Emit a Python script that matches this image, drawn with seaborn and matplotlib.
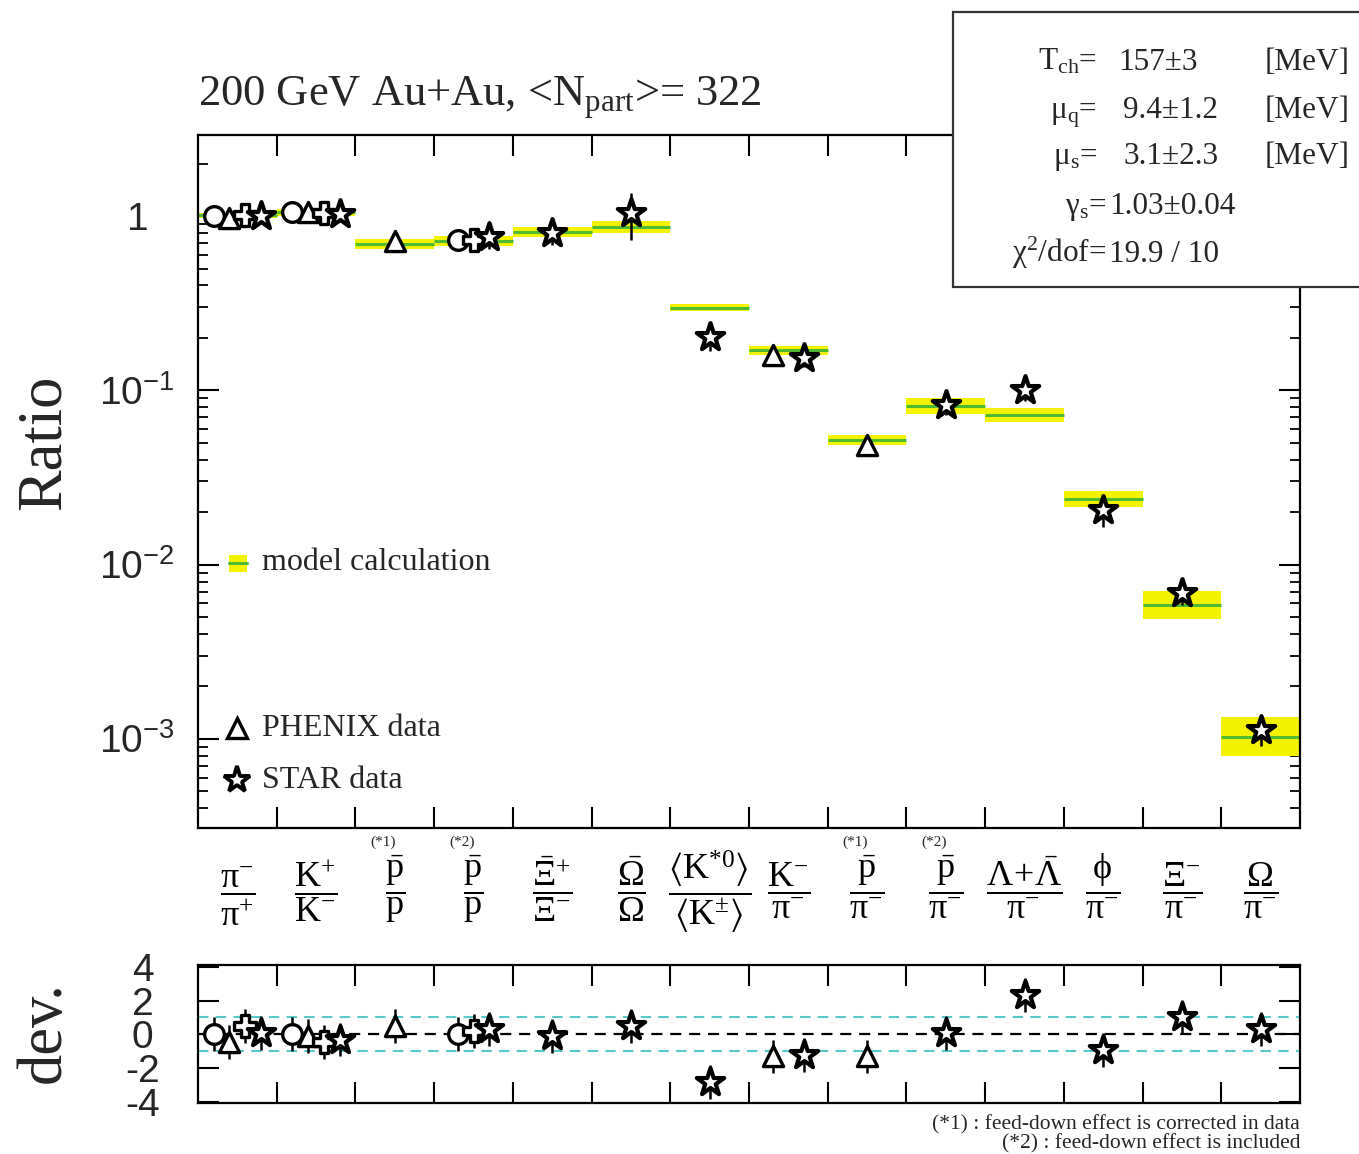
import numpy as np
import matplotlib
matplotlib.use("Agg")
import matplotlib.pyplot as plt
import seaborn as sns
import pandas as pd
from matplotlib.patches import Rectangle
from matplotlib.ticker import FixedLocator, FixedFormatter, LogLocator, NullFormatter
from matplotlib.transforms import blended_transform_factory

# ---------------- data ----------------
ratio_labels = [
    r'$\dfrac{\mathrm{\pi}^{-}}{\mathrm{\pi}^{+}}$',
    r'$\dfrac{\mathrm{K}^{+}}{\mathrm{K}^{-}}$',
    r'$\dfrac{\bar{\mathrm{p}}}{\mathrm{p}}$',
    r'$\dfrac{\bar{\mathrm{p}}}{\mathrm{p}}$',
    r'$\dfrac{\bar{\Xi}^{+}}{\Xi^{-}}$',
    r'$\dfrac{\bar{\Omega}}{\Omega}$',
    r'$\dfrac{\langle\mathrm{K}^{*0}\rangle}{\langle\mathrm{K}^{\pm}\rangle}$',
    r'$\dfrac{\mathrm{K}^{-}}{\mathrm{\pi}^{-}}$',
    r'$\dfrac{\bar{\mathrm{p}}}{\mathrm{\pi}^{-}}$',
    r'$\dfrac{\bar{\mathrm{p}}}{\mathrm{\pi}^{-}}$',
    r'$\dfrac{\Lambda\!+\!\bar{\Lambda}}{\mathrm{\pi}^{-}}$',
    r'$\dfrac{\mathrm{\phi}}{\mathrm{\pi}^{-}}$',
    r'$\dfrac{\Xi^{-}}{\mathrm{\pi}^{-}}$',
    r'$\dfrac{\Omega}{\mathrm{\pi}^{-}}$',
]
note_categories = [2, 3, 8, 9]
note_labels = ['(*1)', '(*2)', '(*1)', '(*2)']

model_value = [1.01, 1.05, 0.69, 0.72, 0.81, 0.865, 0.297, 0.170, 0.0519,
               0.081, 0.072, 0.0238, 0.00586, 0.00103]
model_err_dex = [0.015, 0.018, 0.03, 0.03, 0.03, 0.035, 0.02, 0.025, 0.03,
                 0.045, 0.04, 0.045, 0.08, 0.11]

exp_category = [0, 0, 0, 0, 1, 1, 1, 1, 2, 3, 3, 3, 4, 5, 6, 7, 7, 8, 9, 10, 11, 12, 13]
exp_name = ['BRAHMS', 'PHENIX', 'PHOBOS', 'STAR',
            'BRAHMS', 'PHENIX', 'PHOBOS', 'STAR',
            'PHENIX',
            'BRAHMS', 'PHOBOS', 'STAR',
            'STAR', 'STAR', 'STAR',
            'PHENIX', 'STAR',
            'PHENIX', 'STAR', 'STAR', 'STAR', 'STAR', 'STAR']
exp_value = [1.00, 0.97, 1.02, 1.00, 1.05, 1.05, 1.04, 1.03, 0.72,
             0.73, 0.73, 0.76, 0.80, 1.04, 0.202, 0.159, 0.153, 0.0485,
             0.0824, 0.100, 0.0206, 0.00687, 0.00112]
exp_err_lo_dex = [0.03, 0.03, 0.03, 0.03, 0.03, 0.03, 0.03, 0.04, 0.03,
                  0.03, 0.03, 0.07, 0.07, 0.155, 0.08, 0.03, 0.05, 0.04,
                  0.06, 0.06, 0.10, 0.07, 0.09]
exp_err_hi_dex = [0.03, 0.03, 0.03, 0.03, 0.03, 0.03, 0.03, 0.04, 0.03,
                  0.03, 0.03, 0.07, 0.07, 0.115, 0.08, 0.03, 0.05, 0.04,
                  0.06, 0.06, 0.075, 0.07, 0.09]
deviation = [0.05, -0.45, 0.5, 0.1, 0.0, -0.1, -0.45, -0.3, 0.5,
             0.05, 0.2, 0.3, -0.1, 0.5, -2.8, -1.3, -1.2, -1.3,
             0.1, 2.35, -0.9, 1.05, 0.3]
deviation_err = [1.0] * 23

ytick_values = [1e-3, 1e-2, 1e-1, 1.0]
ytick_labels = [r'$\mathsf{10^{-3}}$', r'$\mathsf{10^{-2}}$', r'$\mathsf{10^{-1}}$', r'$\mathsf{1}$']
dev_ticks = [4, 2, 0, -2, -4]
dev_tick_labels = ['4', '2', '0', '-2', '-4']

# ---------------- style ----------------
sns.set_theme(style="ticks")
plt.rcParams['font.family'] = ['Liberation Serif', 'DejaVu Serif']
plt.rcParams['mathtext.fontset'] = 'custom'
plt.rcParams['mathtext.rm'] = 'Liberation Serif'
plt.rcParams['mathtext.it'] = 'Liberation Serif:italic'
plt.rcParams['mathtext.bf'] = 'Liberation Serif:bold'
plt.rcParams['mathtext.sf'] = 'Liberation Sans'
plt.rcParams['mathtext.fallback'] = 'stix'
plt.rcParams['axes.unicode_minus'] = False

W, H = 1359, 1154
fig = plt.figure(figsize=(W / 100, H / 100), dpi=100)
fig.patch.set_facecolor('white')
ax = fig.add_axes([198 / W, 1 - 828 / H, 1102 / W, 693 / H])
axd = fig.add_axes([198 / W, 1 - 1103 / H, 1102 / W, 138 / H])

ncat = len(model_value)
cat_idx = np.arange(ncat)

df = pd.DataFrame({'cat': exp_category, 'exp': exp_name, 'value': exp_value,
                   'lo': exp_err_lo_dex, 'hi': exp_err_hi_dex,
                   'dev': deviation, 'dev_err': deviation_err})
offs = []
for c, grp in df.groupby('cat', sort=False):
    n = len(grp)
    step = 0.4 if n == 2 else 0.2
    offs.extend((np.arange(n) - (n - 1) / 2) * step)
df['x'] = df['cat'] + np.array(offs)

# ---------------- main panel ----------------
ax.set_yscale('log')
mv = np.array(model_value)
me = np.array(model_err_dex)
lower = mv / 10 ** me
upper = mv * 10 ** me
ax.bar(cat_idx, upper - lower, bottom=lower, width=1.0, color='#f3f300',
       linewidth=0, zorder=1)
ax.hlines(mv, cat_idx - 0.5, cat_idx + 0.5, color='#4fbb2f', lw=2.2, zorder=2)

yv = df['value'].values
ax.errorbar(df['x'], yv, yerr=[yv - yv / 10 ** df['lo'].values, yv * 10 ** df['hi'].values - yv],
            fmt='none', ecolor='black', elinewidth=1.8, capsize=0, zorder=3)

marker_map = {'BRAHMS': ('o', 200, 2.4), 'PHENIX': ('^', 210, 2.4),
              'PHOBOS': ('P', 230, 2.4), 'STAR': ('*', 430, 3.0)}
for name, (mk, sz, lw) in marker_map.items():
    sub = df[df['exp'] == name]
    sns.scatterplot(x=sub['x'], y=sub['value'], marker=mk, s=sz, facecolor='white',
                    edgecolor='black', linewidth=lw, ax=ax, zorder=5, legend=False)
    sns.scatterplot(x=sub['x'], y=sub['dev'], marker=mk, s=sz, facecolor='white',
                    edgecolor='black', linewidth=lw, ax=axd, zorder=5, legend=False)

ax.set_xlim(-0.5, ncat - 0.5)
ax.set_ylim(3.08e-4, 2.92)
ax.set_xlabel('')
ax.set_ylabel('')

boundaries = cat_idx[:-1] + 0.5
for a in (ax, axd):
    a.xaxis.set_major_locator(FixedLocator(boundaries))
    a.xaxis.set_major_formatter(NullFormatter())
    a.tick_params(axis='x', which='major', direction='in', top=True, bottom=True,
                  length=15, width=1.5, color='black')
    for s in a.spines.values():
        s.set_linewidth(1.6)
        s.set_color('black')

ax.xaxis.set_minor_locator(FixedLocator(cat_idx))
ax.xaxis.set_minor_formatter(FixedFormatter(ratio_labels))
ax.tick_params(axis='x', which='minor', length=0, pad=55, labelsize=26,
               labelcolor='black')
for lab in ax.get_xticklabels(minor=True):
    lab.set_va('baseline')

trans = blended_transform_factory(ax.transData, ax.transAxes)
for c, t in zip(note_categories, note_labels):
    ax.text(c - 0.15, (828 - 842) / 693, t, transform=trans, fontsize=11,
            ha='center', va='center')

ax.yaxis.set_major_locator(FixedLocator(ytick_values))
ax.yaxis.set_major_formatter(FixedFormatter(ytick_labels))
ax.yaxis.set_minor_locator(LogLocator(base=10, subs=np.arange(2, 10)))
ax.yaxis.set_minor_formatter(NullFormatter())
ax.tick_params(axis='y', which='major', direction='in', left=True, right=True,
               length=15, width=1.5, labelsize=28, pad=44, color='black')
ax.tick_params(axis='y', which='minor', direction='in', left=True, right=True,
               length=7, width=1.3, color='black')
for lab in ax.get_yticklabels():
    lab.set_ha('center')

# ---------------- deviation panel ----------------
axd.errorbar(df['x'], df['dev'], yerr=df['dev_err'], fmt='none', ecolor='black',
             elinewidth=1.8, capsize=0, zorder=3)
axd.axhline(0, color='black', lw=1.6, ls=(0, (5, 3.5)), zorder=1)
axd.axhline(1, color='#58c8c8', lw=1.5, ls=(0, (5, 3.5)), zorder=1)
axd.axhline(-1, color='#58c8c8', lw=1.5, ls=(0, (5, 3.5)), zorder=1)
axd.set_xlim(-0.5, ncat - 0.5)
axd.set_ylim(-4.05, 4.1)
axd.set_xlabel('')
axd.set_ylabel('')
axd.yaxis.set_major_locator(FixedLocator(dev_ticks))
axd.yaxis.set_major_formatter(FixedFormatter(dev_tick_labels))
axd.tick_params(axis='y', which='major', direction='in', left=True, right=True,
                length=15, width=1.5, labelsize=28, pad=40, color='black')
for lab in axd.get_yticklabels():
    lab.set_fontfamily('Liberation Sans')
    lab.set_ha('center')

# ---------------- legend (manual, no frame) ----------------
def axc(px, py):
    return (px - 198) / 1102, (828 - py) / 693

x0, y0 = axc(229, 572)
x1, y1 = axc(247, 555)
ax.add_patch(Rectangle((x0, y0), x1 - x0, y1 - y0, transform=ax.transAxes,
                       color='#f3f300', lw=0, zorder=6))
gx0, gy = axc(229, 563)
gx1, _ = axc(247, 563)
ax.plot([gx0, gx1], [gy, gy], transform=ax.transAxes, color='#4fbb2f', lw=2.2, zorder=7)
tx, ty = axc(262, 563)
ax.text(tx, ty, 'model calculation', transform=ax.transAxes, fontsize=23,
        va='center', ha='left', zorder=7)
mx, my = axc(237, 728)
ax.plot([mx], [my], transform=ax.transAxes, marker='^', ms=14, mfc='white',
        mec='black', mew=2.4, zorder=7)
tx, ty = axc(262, 728)
ax.text(tx, ty, 'PHENIX data', transform=ax.transAxes, fontsize=23,
        va='center', ha='left', zorder=7)
mx, my = axc(237, 780)
ax.plot([mx], [my], transform=ax.transAxes, marker='*', ms=20, mfc='white',
        mec='black', mew=2.8, zorder=7)
tx, ty = axc(262, 780)
ax.text(tx, ty, 'STAR data', transform=ax.transAxes, fontsize=23,
        va='center', ha='left', zorder=7)

# ---------------- figure texts ----------------
def fx(px):
    return px / W

def fy(py):
    return 1 - py / H

fig.text(fx(198), fy(106), r'200 GeV Au+Au, <N$_{\rm part}$>= 322', fontsize=32,
         ha='left', va='baseline')
fig.text(fx(45), fy(442), 'Ratio', fontsize=45, rotation=90, ha='center', va='center')
fig.text(fx(45), fy(1032), 'dev.', fontsize=45, rotation=90, ha='center', va='center')
fig.text(fx(1300), fy(1129), '(*1) : feed-down effect is corrected in data', fontsize=15.5,
         ha='right', va='baseline')
fig.text(fx(1300), fy(1148), '(*2) : feed-down effect is included', fontsize=15.5,
         ha='right', va='baseline')

# parameter box
box = Rectangle((fx(953), fy(287)), fx(1370) - fx(953), fy(12) - fy(287),
                transform=fig.transFigure, facecolor='white', edgecolor='#333333',
                lw=1.6, zorder=10)
fig.add_artist(box)
rows = [
    (r'T$_{\rm ch}$=', 1097, '157±3', 1118, '[MeV]', 70),
    (r'$\mathrm{\mu}_{\rm q}$=', 1097, '9.4±1.2', 1123, '[MeV]', 118),
    (r'$\mathrm{\mu}_{\rm s}$=', 1097, '3.1±2.3', 1123, '[MeV]', 164),
    (r'$\mathrm{\gamma}_{\rm s}$=', 1106, '1.03±0.04', 1109, '', 214),
    (r'$\mathrm{\chi}^{2}$/dof=', 1106, '19.9 / 10', 1109, '', 262),
]
for lab, lx, val, vx, unit, by in rows:
    fig.text(fx(lx), fy(by), lab, fontsize=22.5, ha='right', va='baseline', zorder=11)
    fig.text(fx(vx), fy(by), val, fontsize=22.5, ha='left', va='baseline', zorder=11)
    if unit:
        fig.text(fx(1265), fy(by), unit, fontsize=22.5, ha='left', va='baseline', zorder=11)

fig.savefig('out.png', dpi=100, facecolor='white')
